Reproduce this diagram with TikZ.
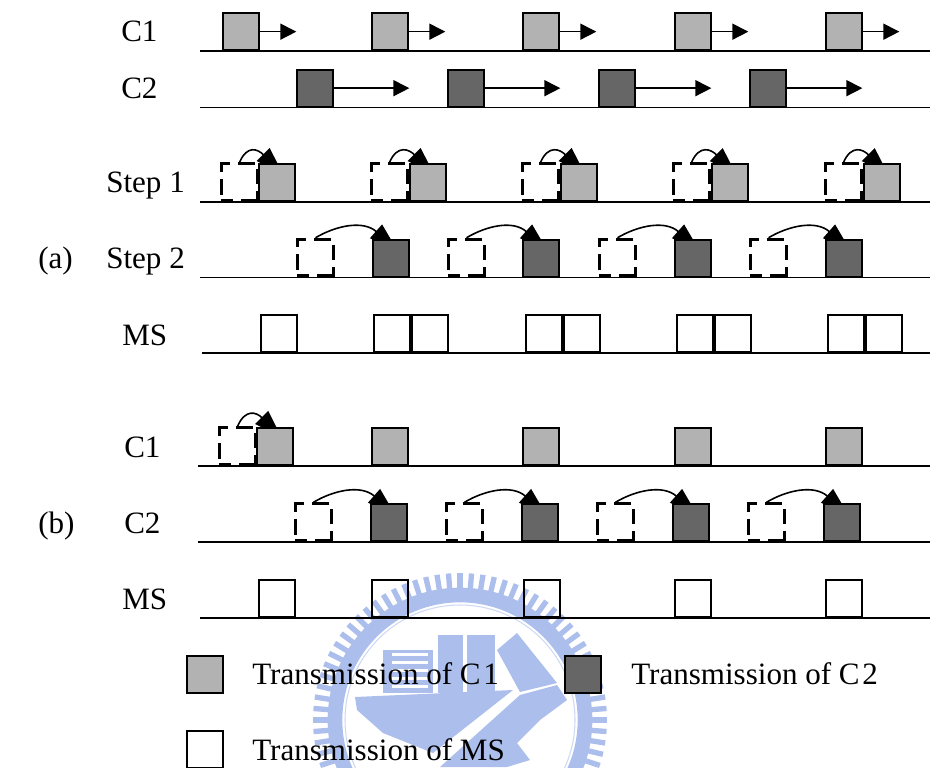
\documentclass[tikz,border=0pt]{standalone}
\usepackage{fontspec}
\setmainfont{Liberation Serif}
\usetikzlibrary{arrows.meta, backgrounds, calc}

\definecolor{crestblue}{RGB}{172,190,236}
\tikzset{
  slot/.style={draw, line width=1.5pt, minimum size=27.5pt, inner sep=0pt, anchor=south west, xshift=0.5pt},
  grayslot/.style={slot, fill=black!30},
  darkslot/.style={slot, fill=black!60},
  ghostslot/.style={slot, line width=2.3pt, dash pattern=on 9pt off 6pt on 19.5pt off 5.25pt on 11.25pt off 6pt on 12.75pt off 6pt on 12.75pt off 5.25pt on 12pt off 5.25pt on 3pt},
  timeline/.style={line width=1.2pt},
  label/.style={anchor=base west, inner sep=0pt, font=\fontsize{23.3}{28}\selectfont},
  push/.style={-{Triangle[length=12pt,width=12pt]}, line width=1.2pt},
  hop/.style={-{Triangle[length=21pt,width=13.5pt]}, line width=1.2pt}
}

\begin{document}
\begin{tikzpicture}[x=0.75pt, y=-0.75pt]
  \useasboundingbox (0,0) rectangle (930,767);

  \begin{scope}[on background layer, shift={(460,720)}]
    \foreach \a in {0,4.5,...,356}
      \draw[crestblue, line width=4pt] (\a:130) -- (\a:147);
    \draw[crestblue, line width=11pt] (0,0) circle (125);
    \draw[crestblue!60, line width=0.8pt] (0,0) circle (115);
    \fill[crestblue] (-77,-70) rectangle (-27,-27);
    \foreach \y in {-64,-56,-48,-40,-32}
      \fill[white] (-68,\y) rectangle (-32,\y-3);
    \fill[crestblue] (-22,-85) rectangle (3,-27);
    \fill[crestblue] (7,-85) rectangle (35,-27);
    \fill[crestblue] (57,-87) -- (97,-37) -- (60,-28) -- (37,-70) -- cycle;
    \fill[crestblue] (-105,-23) -- (53,-30) -- (-27,33) -- (-77,13) -- (-103,-10) -- cycle;
    \fill[crestblue] (60,-25) -- (97,-35) -- (107,-20) -- (80,0) -- (57,23) -- (70,40) -- (47,47) -- (-20,47) -- cycle;
  \end{scope}

  % timelines and their slots
  \foreach \row/\y/\xl in {ca/51/200, cb/107.5/200, sa/202/200, sb/277.5/200, ma/353/202, cc/466/198, cd/542/198, mb/618/200} {
    \coordinate (\row l) at (\xl,\y);
    \coordinate (\row r) at (930,\y);
    \draw[timeline] (\row l) -- (\row r);
  }

  \foreach \x [count=\n] in {221,370,521,673,824} {
    \node[grayslot] (ca\n) at (\x,51) {};
    \coordinate (caend\n) at ($(ca\n.east)+(36,0)$);
    \draw[push] (ca\n.east) -- (caend\n);
  }
  \foreach \x [count=\n] in {295,446,597,748} {
    \node[darkslot] (cb\n) at (\x,107.5) {};
    \coordinate (cbend\n) at ($(cb\n.east)+(75,0)$);
    \draw[push] (cb\n.east) -- (cbend\n);
  }

  % step 1 and step 2
  \foreach \xa/\xb [count=\n] in {219/257,369/408,520/559,671/710,823/862} {
    \node[ghostslot] (sag\n) at (\xa,202) {};
    \node[grayslot] (sa\n) at (\xb,202) {};
    \coordinate (satip\n) at ($(sa\n.north)+(6,11)$);
    \begin{pgfonlayer}{background}
      \draw[hop] (sag\n.north) .. controls +(8,-18) and +(-25,-25) .. (satip\n);
    \end{pgfonlayer}
  }
  \foreach \xa/\xb [count=\n] in {295/371,446/521,597/673,748/824} {
    \node[ghostslot] (sbg\n) at (\xa,277.5) {};
    \node[darkslot] (sb\n) at (\xb,277.5) {};
    \coordinate (sbtip\n) at ($(sb\n.north)+(6,11)$);
    \begin{pgfonlayer}{background}
      \draw[hop] (sbg\n.north) .. controls +(20,-12) and +(-34,-30) .. (sbtip\n);
    \end{pgfonlayer}
  }
  \foreach \x [count=\n] in {259,372,410,524,562,675,713,826,864}
    \node[slot] (ma\n) at (\x,353) {};

  % part (b)
  \node[ghostslot] (ccg) at (217,466) {};
  \coordinate (cctip) at ($(ccg.north)+(44,11)$);
  \begin{pgfonlayer}{background}
    \draw[hop] (ccg.north) .. controls +(8,-18) and +(-25,-25) .. (cctip);
  \end{pgfonlayer}
  \foreach \x [count=\n] in {255,370,521,673,824}
    \node[grayslot] (cc\n) at (\x,466) {};
  \foreach \xa/\xb [count=\n] in {293/369,444/520,595/671,746/822} {
    \node[ghostslot] (cdg\n) at (\xa,542) {};
    \node[darkslot] (cd\n) at (\xb,542) {};
    \coordinate (cdtip\n) at ($(cd\n.north)+(6,11)$);
    \begin{pgfonlayer}{background}
      \draw[hop] (cdg\n.north) .. controls +(20,-12) and +(-34,-30) .. (cdtip\n);
    \end{pgfonlayer}
  }
  \foreach \x [count=\n] in {257,370,522,673,824}
    \node[slot] (mb\n) at (\x,618) {};

  % row names
  \node[label] (lca) at (121,42) {C1};
  \node[label] (lcb) at (121,98) {C2};
  \node[label] (lsa) at (106,192) {Step 1};
  \node[label] (lsb) at (106,268) {Step 2};
  \node[label] (lma) at (122,345) {MS};
  \node[label] (lpa) at (38,268) {(a)};
  \node[label] (lcc) at (124,457) {C1};
  \node[label] (lcd) at (124,533) {C2};
  \node[label] (lpb) at (38,533) {(b)};
  \node[label] (lmb) at (122,609) {MS};

  % legend
  \node[grayslot] (keya) at (185,694) {};
  \node[darkslot] (keyb) at (563,694) {};
  \node[slot] (keyc) at (185,769) {};
  \node[label] (txta) at (252,684) {Transmission of C\kern2pt 1};
  \node[label] (txtb) at (631,684) {Transmission of C\kern2pt 2};
  \node[label] (txtc) at (252,760) {Transmission of MS};
\end{tikzpicture}
\end{document}
